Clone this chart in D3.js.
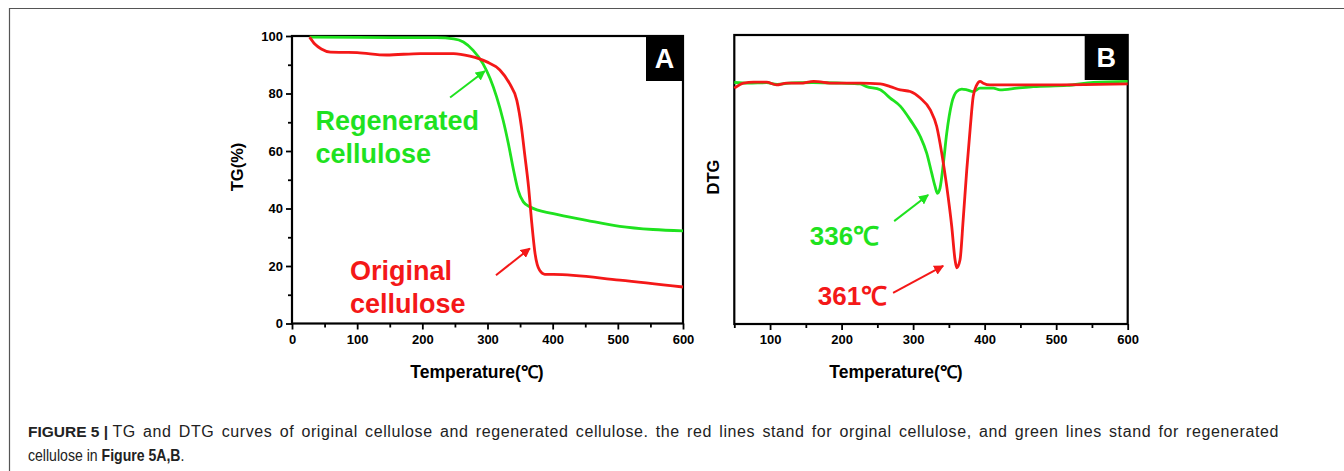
<!DOCTYPE html>
<html>
<head>
<meta charset="utf-8">
<script src="https://cdn.jsdelivr.net/npm/d3@7"></script>
<style>
  body { margin: 0; background: #fff; }
  svg { display: block; font-family: "Liberation Sans", Arial, sans-serif; }
</style>
</head>
<body>
<div id="chart"></div>
<script>
// TG curves (panel A), temperature in °C, mass in %
const tgOrigT = [27, 35, 45, 59, 80, 100, 145, 197, 248, 273, 299, 319, 334, 345, 352, 357, 363, 368, 373, 380, 388, 401, 503, 600];
const tgOrig  = [99.6, 97.2, 95.5, 94.4, 94.3, 94.2, 93.4, 93.9, 93.9, 93.0, 91.0, 88.2, 83.4, 77.6, 68.4, 59.0, 47.5, 34.8, 24.3, 18.5, 17.1, 17.1, 15.1, 12.7];
const tgRegT  = [27, 100, 222, 248, 263, 278, 293, 304, 314, 324, 332, 340, 347, 355, 365, 401, 452, 503, 554, 600];
const tgReg   = [99.6, 99.5, 99.4, 99.0, 97.9, 95.0, 90.4, 85.2, 78.8, 70.7, 62.6, 53.3, 46.3, 42.3, 40.6, 38.2, 35.9, 33.8, 32.7, 32.2];

// DTG curves (panel B), arbitrary units
const dtgOrigT = [50, 63, 77, 95, 109, 123, 142, 161, 189, 226, 254, 268, 282, 296, 310, 324, 333, 340, 347, 354, 358.6, 361, 365.6, 370, 375, 380, 384, 389, 393.6, 398, 407.5, 468, 600];
const dtgOrig  = [-0.044, 0, 0.009, 0.009, -0.015, 0, 0, 0.015, 0, 0, -0.006, -0.03, -0.058, -0.073, -0.13, -0.233, -0.378, -0.61, -0.9, -1.25, -1.54, -1.61, -1.54, -1.19, -0.756, -0.378, -0.116, -0.015, 0.015, 0, -0.015, -0.015, -0.006];
const dtgRegT  = [50, 70, 95, 110, 130, 160, 200, 226, 235, 254, 268, 282, 296, 310, 319, 326, 330.7, 334, 337.6, 342.3, 347, 354, 361, 368, 375, 384, 393.6, 412, 421.5, 445, 468, 515, 552, 600];
const dtgReg   = [0.006, 0, 0.004, -0.01, 0.003, 0.006, 0, -0.006, -0.03, -0.058, -0.13, -0.2, -0.32, -0.465, -0.61, -0.785, -0.9, -0.96, -0.915, -0.70, -0.436, -0.174, -0.073, -0.052, -0.058, -0.073, -0.044, -0.044, -0.058, -0.044, -0.03, -0.02, 0.006, 0.015];

const tgMajor = [0, 20, 40, 60, 80, 100];
const tgMinor = [10, 30, 50, 70, 90];
const tempMajorA = [0, 100, 200, 300, 400, 500, 600];
const tempMajorB = [100, 200, 300, 400, 500, 600];
const tempMinor = [50, 150, 250, 350, 450, 550];

const GREEN = "#1fe21f", RED = "#f41818";

const svg = d3.select("#chart").append("svg")
    .attr("width", 1344).attr("height", 471);

// figure frame (top + left)
svg.append("path").attr("d", "M9.5,471 V8.5 H1344")
    .attr("fill", "none").attr("stroke", "#555").attr("stroke-width", 1.2);

const defs = svg.append("defs");
[["arrG", GREEN], ["arrR", RED]].forEach(([id, c]) => {
    defs.append("marker").attr("id", id)
        .attr("viewBox", "0 0 10 10").attr("refX", 9).attr("refY", 5)
        .attr("markerWidth", 5).attr("markerHeight", 5)
        .attr("orient", "auto")
        .append("path").attr("d", "M0,0 L10,5 L0,10 z").attr("fill", c);
});

const panel = (x, y, label) => {
    const [x0, x1] = x.range(), [y1, y0] = y.range();
    const g = svg.append("g");
    const axisStyle = sel => {
        sel.select(".domain").remove();
        sel.selectAll("line").attr("stroke", "#000").attr("stroke-width", 1.8);
        sel.selectAll("text").attr("font-size", 13).attr("font-weight", "bold").attr("fill", "#000");
    };
    g.append("g").attr("transform", `translate(0,${y1})`)
        .call(d3.axisBottom(x).tickValues(tempMinor).tickSize(4).tickFormat(""))
        .call(axisStyle);
    g.append("g").attr("transform", `translate(0,${y1})`)
        .call(d3.axisBottom(x).tickValues(label === "A" ? tempMajorA : tempMajorB).tickSize(6).tickPadding(5).tickFormat(d3.format("d")))
        .call(axisStyle);
    g.append("rect").attr("x", x0).attr("y", y0).attr("width", x1 - x0).attr("height", y1 - y0)
        .attr("fill", "none").attr("stroke", "#000").attr("stroke-width", 2.2);
    g.append("rect").attr("x", x1 - (label === "A" ? 37 : 43)).attr("y", y0)
        .attr("width", label === "A" ? 37 : 43).attr("height", 45).attr("fill", "#000");
    g.append("text").attr("x", x1 - (label === "A" ? 18.5 : 21.5)).attr("y", y0 + 32)
        .attr("text-anchor", "middle").attr("fill", "#fff").attr("font-weight", "bold")
        .attr("font-size", 27).text(label);
    return g;
};

const line = (x, y) => d3.line().x(d => x(d[0])).y(d => y(d[1])).curve(d3.curveMonotoneX);
const zip = (a, b) => a.map((v, i) => [v, b[i]]);

const drawSeries = (g, x, y, xs, ys, color) => {
    g.append("path").datum(zip(xs, ys)).attr("d", line(x, y))
        .attr("fill", "none").attr("stroke", color).attr("stroke-width", 2.8)
        .attr("stroke-linejoin", "round");
};

const arrow = (g, x, y, from, to, color, id) => {
    g.append("line")
        .attr("x1", x(from[0])).attr("y1", y(from[1]))
        .attr("x2", x(to[0])).attr("y2", y(to[1]))
        .attr("stroke", color).attr("stroke-width", 2)
        .attr("marker-end", `url(#${id})`);
};

const label = (g, x, y, pos, lines, color, size) => {
    lines.forEach((t, i) => {
        g.append("text").attr("x", x(pos[0])).attr("y", y(pos[1][i]))
            .attr("fill", color).attr("font-weight", "bold").attr("font-size", size).text(t);
    });
};

// ---- Panel A (TG) ----
const xA = d3.scaleLinear().domain([0, 600]).range([292, 683]);
const yA = d3.scaleLinear().domain([0, 100]).range([323.5, 36]);
const gA = panel(xA, yA, "A");
gA.append("g").attr("transform", "translate(292,0)")
    .call(d3.axisLeft(yA).tickValues(tgMinor).tickSize(4).tickFormat(""))
    .call(sel => { sel.select(".domain").remove(); sel.selectAll("line").attr("stroke", "#000").attr("stroke-width", 1.8); });
gA.append("g").attr("transform", "translate(292,0)")
    .call(d3.axisLeft(yA).tickValues(tgMajor).tickSize(6).tickPadding(3))
    .call(sel => {
        sel.select(".domain").remove();
        sel.selectAll("line").attr("stroke", "#000").attr("stroke-width", 1.8);
        sel.selectAll("text").attr("font-size", 13).attr("font-weight", "bold").attr("fill", "#000");
    });
drawSeries(gA, xA, yA, tgRegT, tgReg, GREEN);
drawSeries(gA, xA, yA, tgOrigT, tgOrig, RED);
label(gA, xA, yA, [36, [67.2, 55.8]], ["Regenerated", "cellulose"], GREEN, 27);
label(gA, xA, yA, [89, [15.3, 3.7]], ["Original", "cellulose"], RED, 27);
arrow(gA, xA, yA, [242.6, 78.6], [296, 87.8], GREEN, "arrG");
arrow(gA, xA, yA, [313, 16.8], [365, 26.1], RED, "arrR");
svg.append("text").attr("transform", "translate(243,167) rotate(-90)")
    .attr("text-anchor", "middle").attr("font-weight", "bold").attr("font-size", 16.5).text("TG(%)");
svg.append("text").attr("x", 477).attr("y", 378).attr("text-anchor", "middle")
    .attr("font-weight", "bold").attr("font-size", 17.5).text("Temperature(℃)");

// ---- Panel B (DTG) ----
const xB = d3.scaleLinear().domain([50, 600]).range([734.3, 1127.7]);
const yB = d3.scaleLinear().domain([-2.1, 0.42]).range([324, 35]);
const gB = panel(xB, yB, "B");
drawSeries(gB, xB, yB, dtgRegT, dtgReg, GREEN);
drawSeries(gB, xB, yB, dtgOrigT, dtgOrig, RED);
label(gB, xB, yB, [155.6, [-1.41]], ["336℃"], GREEN, 26);
label(gB, xB, yB, [166.8, [-1.934]], ["361℃"], RED, 26);
arrow(gB, xB, yB, [273.5, -1.203], [321, -0.975], GREEN, "arrG");
arrow(gB, xB, yB, [272, -1.829], [342, -1.594], RED, "arrR");
svg.append("text").attr("transform", "translate(719,177) rotate(-90)")
    .attr("text-anchor", "middle").attr("font-weight", "bold").attr("font-size", 16.5).text("DTG");
svg.append("text").attr("x", 896).attr("y", 378).attr("text-anchor", "middle")
    .attr("font-weight", "bold").attr("font-size", 17.5).text("Temperature(℃)");

// ---- caption: first line justified to the column ----
const cap1 = svg.append("text").attr("x", 28).attr("y", 437)
    .attr("font-size", 16).attr("fill", "#222");
cap1.append("tspan").attr("font-weight", "bold").attr("font-size", 15.5).text("FIGURE 5 | ");
const body1 = "TG and DTG curves of original cellulose and regenerated cellulose. the red lines stand for orginal cellulose, and green lines stand for regenerated";
const t1 = cap1.append("tspan").attr("letter-spacing", 0.6).text(body1);
const extra = 1279 - 28 - cap1.node().getComputedTextLength();
if (extra > 0) t1.attr("word-spacing", extra / (body1.split(" ").length - 1));
const cap2 = svg.append("text").attr("transform", "translate(28,461) scale(0.88,1)")
    .attr("font-size", 16).attr("fill", "#222");
cap2.append("tspan").text("cellulose in ");
cap2.append("tspan").attr("font-weight", "bold").text("Figure 5A,B");
cap2.append("tspan").text(".");
</script>
</body>
</html>
